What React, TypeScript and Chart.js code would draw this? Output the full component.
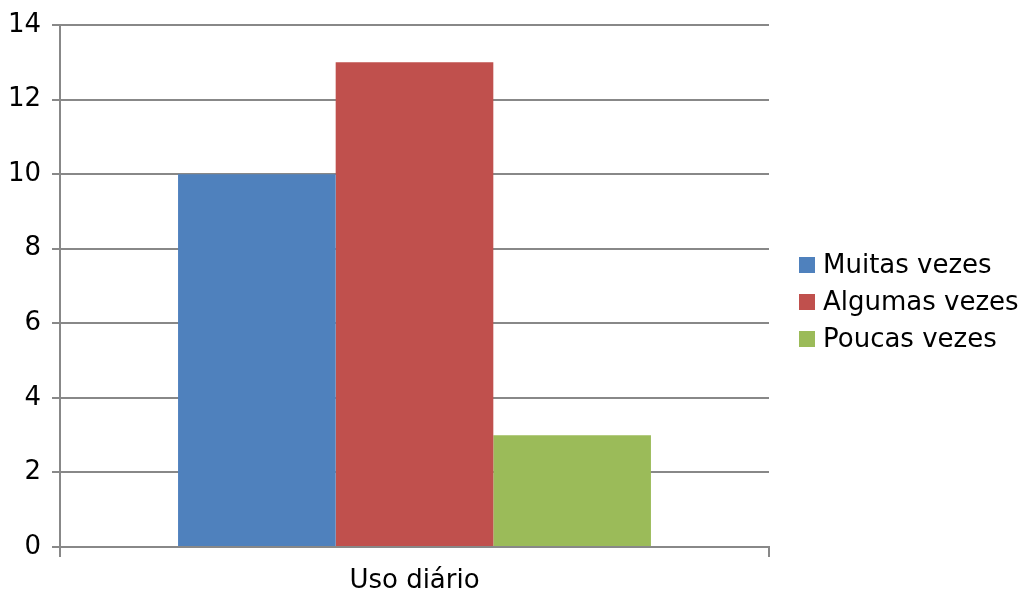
import React, { useEffect, useRef } from "react";
import { Chart, registerables } from "chart.js";

Chart.register(...registerables);

const categories = ["Uso diário"];
const seriesNames = ["Muitas vezes", "Algumas vezes", "Poucas vezes"];
const muitas = [10];
const algumas = [13];
const poucas = [3];
const colors = ["#4F81BD", "#C0504D", "#9BBB59"];

const FONT = "'DejaVu Sans', sans-serif";
const GRID = "#888888";
const FS = 26;

const legendPlugin = {
  id: "customLegend",
  afterDraw(chart: any) {
    const ctx = chart.ctx;
    ctx.save();
    ctx.font = `${FS}px ${FONT}`;
    ctx.textBaseline = "middle";
    ctx.textAlign = "left";
    chart.data.datasets.forEach((ds: any, i: number) => {
      const cy = 265 + i * 37;
      ctx.fillStyle = ds.backgroundColor;
      ctx.fillRect(799, cy - 8, 16, 16);
      ctx.fillStyle = "#000";
      ctx.fillText(ds.label, 823, cy + 1);
    });
    ctx.restore();
  },
};

export default function App() {
  const ref = useRef<HTMLCanvasElement | null>(null);
  useEffect(() => {
    document.body.style.margin = "0";
    const values = [muitas, algumas, poucas];
    const chart = new Chart(ref.current!, {
      type: "bar",
      data: {
        labels: categories,
        datasets: seriesNames.map((name, i) => ({
          label: name,
          data: values[i],
          backgroundColor: colors[i],
          borderWidth: 0,
          categoryPercentage: 0.667,
          barPercentage: 1,
        })),
      },
      options: {
        animation: false,
        responsive: false,
        maintainAspectRatio: false,
        layout: { padding: { top: 25, right: 255, left: 0, bottom: 0 } },
        plugins: { legend: { display: false }, tooltip: { enabled: false } },
        scales: {
          x: {
            grid: {
              display: true,
              drawOnChartArea: false,
              drawTicks: true,
              tickLength: 10,
              color: GRID,
              lineWidth: 2,
            },
            border: { display: true, color: GRID, width: 2 },
            ticks: { color: "#000", font: { family: FONT, size: FS }, padding: 9 },
            afterFit: (s: any) => {
              s.height = 45;
            },
          },
          y: {
            min: 0,
            max: 14,
            ticks: {
              stepSize: 2,
              color: "#000",
              font: { family: FONT, size: FS, lineHeight: 1 },
              padding: 11,
            },
            grid: { color: GRID, lineWidth: 2, tickLength: 8 },
            border: { display: true, color: GRID, width: 2 },
            afterFit: (s: any) => {
              s.width = 60;
            },
          },
        },
      },
      plugins: [legendPlugin],
    });
    return () => chart.destroy();
  }, []);
  return (
    <div style={{ width: 1024, height: 592 }}>
      <canvas ref={ref} width={1024} height={592} style={{ display: "block" }} />
    </div>
  );
}
